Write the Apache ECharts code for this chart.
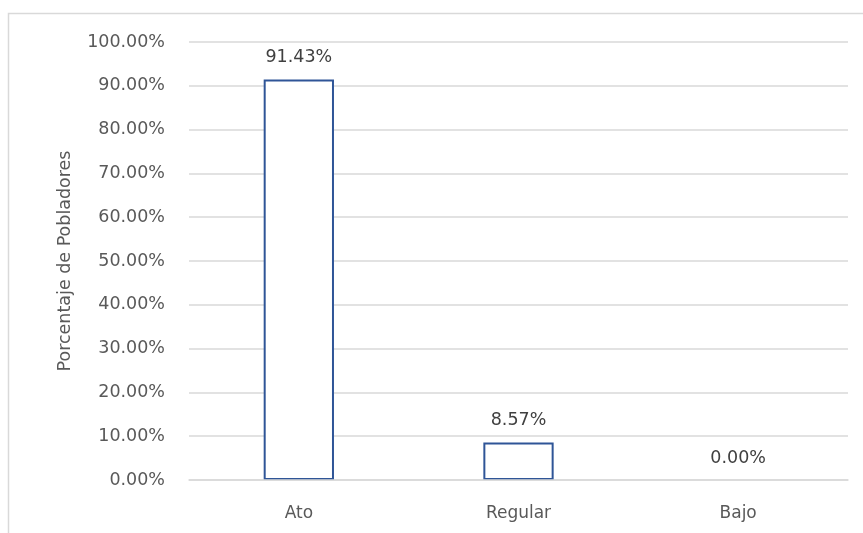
<!DOCTYPE html>
<html>
<head>
<meta charset="utf-8">
<script src="https://cdn.jsdelivr.net/npm/echarts@6/dist/echarts.min.js"></script>
<style>
html,body{margin:0;padding:0;background:#fff;}
#c{width:863px;height:533px;}
</style>
</head>
<body>
<div id="c"></div>
<script>
const categories = ['Ato', 'Regular', 'Bajo'];
const values = [91.43, 8.57, 0.00];
const yTitle = 'Porcentaje de Pobladores';

const chart = echarts.init(document.getElementById('c'));
const font = '"DejaVu Sans", "Open Sans", sans-serif';
chart.setOption({
  animation: false,
  backgroundColor: '#fff',
  graphic: [{
    type: 'rect',
    shape: {x: 8.5, y: 13.5, width: 900, height: 560},
    style: {fill: 'none', stroke: '#d9d9d9', lineWidth: 1.5},
    silent: true
  }],
  grid: {left: 189, right: 15, top: 42, bottom: 53},
  xAxis: {
    type: 'category',
    data: categories,
    z: 5,
    axisTick: {show: false},
    axisLine: {lineStyle: {color: '#d9d9d9', width: 1.5}},
    axisLabel: {color: '#595959', fontSize: 17, fontFamily: font, margin: 25}
  },
  yAxis: {
    type: 'value',
    min: 0, max: 100, interval: 10,
    name: yTitle,
    nameLocation: 'middle',
    nameGap: 115,
    nameTextStyle: {color: '#595959', fontSize: 17.5, fontFamily: font},
    axisLine: {show: false},
    axisTick: {show: false},
    splitLine: {lineStyle: {color: '#d9d9d9', width: 1.5}},
    axisLabel: {
      color: '#595959', fontSize: 17.5, fontFamily: font, margin: 24,
      formatter: v => v.toFixed(2) + '%'
    }
  },
  series: [{
    type: 'bar',
    z: 2,
    data: values.map(v => ({
      value: v,
      itemStyle: v === 0 ? {borderWidth: 0, color: 'rgba(0,0,0,0)'} : undefined
    })),
    barWidth: '32%',
    itemStyle: {color: '#ffffff', borderColor: '#2f5597', borderWidth: 2},
    label: {
      show: true, position: 'top', distance: 13,
      color: '#404040', fontSize: 17.5, fontFamily: font,
      formatter: p => p.value.toFixed(2) + '%'
    }
  }]
});
</script>
</body>
</html>
